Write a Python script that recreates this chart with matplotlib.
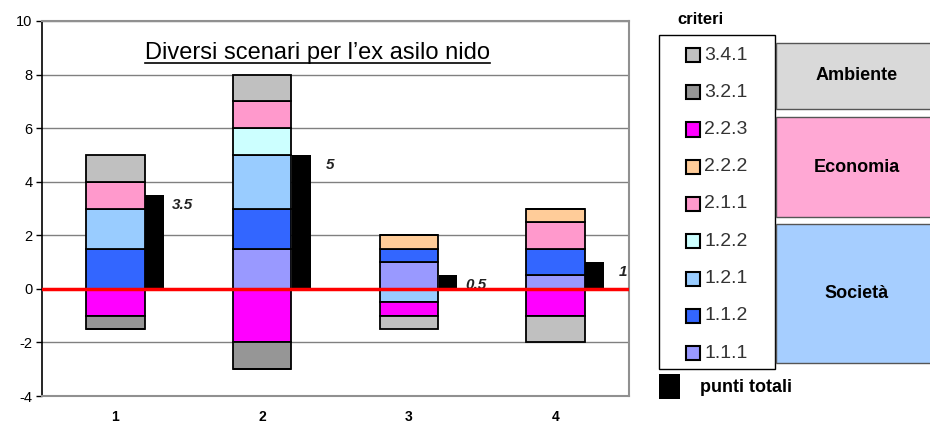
import matplotlib.pyplot as plt
import numpy as np
from matplotlib.patches import Rectangle
from matplotlib.lines import Line2D

plt.rcParams['font.family'] = ['Liberation Sans', 'DejaVu Sans']
plt.rcParams['axes.unicode_minus'] = False

# data
scenarios = ['1', '2', '3', '4']
criteria = ['1.1.1', '1.1.2', '1.2.1', '1.2.2', '2.1.1', '2.2.2', '2.2.3', '3.2.1', '3.4.1']
values = {
    '1.1.1': [0, 1.5, 1, 0.5],
    '1.1.2': [1.5, 1.5, 0.5, 1],
    '1.2.1': [1.5, 2, -0.5, 0],
    '1.2.2': [0, 1, 0, 0],
    '2.1.1': [1, 1, 0, 1],
    '2.2.2': [0, 0, 0.5, 0.5],
    '2.2.3': [-1, -2, -0.5, -1],
    '3.2.1': [-0.5, -1, 0, 0],
    '3.4.1': [1, 1, -0.5, -1],
}
totals = [3.5, 5, 0.5, 1]
total_labels = ['3.5', '5', '0.5', '1']
colors = {
    '1.1.1': '#9999FF', '1.1.2': '#3366FF', '1.2.1': '#99CCFF', '1.2.2': '#CCFFFF',
    '2.1.1': '#FF99CC', '2.2.2': '#FFCC99', '2.2.3': '#FF00FF', '3.2.1': '#969696',
    '3.4.1': '#C0C0C0',
}
groups = ['Ambiente', 'Economia', 'Società']

fig = plt.figure(figsize=(9.3, 4.26), dpi=100)
ax = fig.add_axes([42 / 930, 1 - 396 / 426, 587 / 930, 375 / 426])

x = np.arange(len(scenarios))
pos = np.zeros(len(scenarios))
neg = np.zeros(len(scenarios))
for c in criteria:
    v = np.array(values[c], dtype=float)
    p = np.where(v > 0, v, 0)
    n = np.where(v < 0, v, 0)
    ax.bar(x, p, 0.4, bottom=pos, color=colors[c], edgecolor='black', linewidth=1.3, zorder=3)
    ax.bar(x, n, 0.4, bottom=neg, color=colors[c], edgecolor='black', linewidth=1.3, zorder=3)
    pos += p
    neg += n

# black bars with the total score
ax.bar(x + 0.267, totals, 0.127, color='black', zorder=3)
for xi, t, lab in zip(x, totals, total_labels):
    ax.annotate(lab, (xi + 0.46, t), xytext=(0, -7), textcoords='offset points',
                ha='center', va='center', fontsize=11, fontstyle='italic', fontweight='bold',
                color='#222222')

ax.axhline(0, color='#FF0000', linewidth=2.5, zorder=5)

ax.set_xlim(-0.5, 3.5)
ax.set_ylim(-4, 10)
ax.set_yticks(range(-4, 11, 2))
ax.set_xticks(x)
ax.set_xticklabels(scenarios, fontweight='bold', fontsize=10)
ax.tick_params(axis='x', length=0, pad=10)
ax.tick_params(axis='y', length=4, width=1, labelsize=10.5, pad=3)
ax.grid(axis='y', color='#808080', linewidth=1, zorder=0)
for s in ['top', 'right', 'bottom']:
    ax.spines[s].set_color('#909090')
    ax.spines[s].set_linewidth(1.5)
ax.spines['left'].set_color('black')
ax.spines['left'].set_linewidth(1.2)

title = ax.text(0.47, 0.915, 'Diversi scenari per l\u2019ex asilo nido', transform=ax.transAxes,
                ha='center', va='center', fontsize=17, zorder=6,
                bbox=dict(facecolor='white', edgecolor='none', pad=1))
fig.canvas.draw()
bb = title.get_window_extent().transformed(fig.transFigure.inverted())
fig.add_artist(Line2D([bb.x0, bb.x1], [bb.y0 + 0.002, bb.y0 + 0.002], color='black',
                      linewidth=1.2, transform=fig.transFigure))

# legend
W, H = 930, 426


def fx(px):
    return px / W


def fy(py):
    return 1 - py / H


fig.text(fx(677), fy(19), 'criteri', fontsize=12, fontweight='bold', va='center', ha='left')
fig.add_artist(Rectangle((fx(659), fy(369)), fx(775 - 659), (369 - 35) / H, facecolor='white',
                         edgecolor='black', linewidth=1, transform=fig.transFigure))
for i, c in enumerate(criteria[::-1]):
    yc = 55 + i * 37.25
    fig.add_artist(Rectangle((fx(686), fy(yc + 7)), fx(14), 14 / H, facecolor=colors[c],
                             edgecolor='black', linewidth=1.5, transform=fig.transFigure))
    fig.text(fx(704), fy(yc), c, fontsize=14, color='#333333', va='center', ha='left')

group_boxes = [(43, 109, '#D9D9D9'), (117, 217, '#FFA8D4'), (224, 363, '#A6CEFF')]
for (top, bot, col), g in zip(group_boxes, groups):
    fig.add_artist(Rectangle((fx(776), fy(bot)), fx(160), (bot - top) / H, facecolor=col,
                             edgecolor='#555555', linewidth=1, transform=fig.transFigure))
    fig.text(fx(857), fy((top + bot) / 2), g, fontsize=13, fontweight='bold',
             ha='center', va='center')

fig.add_artist(Rectangle((fx(659), fy(399)), fx(21), 25 / H, facecolor='black',
                         edgecolor='none', transform=fig.transFigure))
fig.text(fx(700), fy(388), 'punti totali', fontsize=13, fontweight='bold', va='center', ha='left')

fig.savefig('out.png', dpi=100)
